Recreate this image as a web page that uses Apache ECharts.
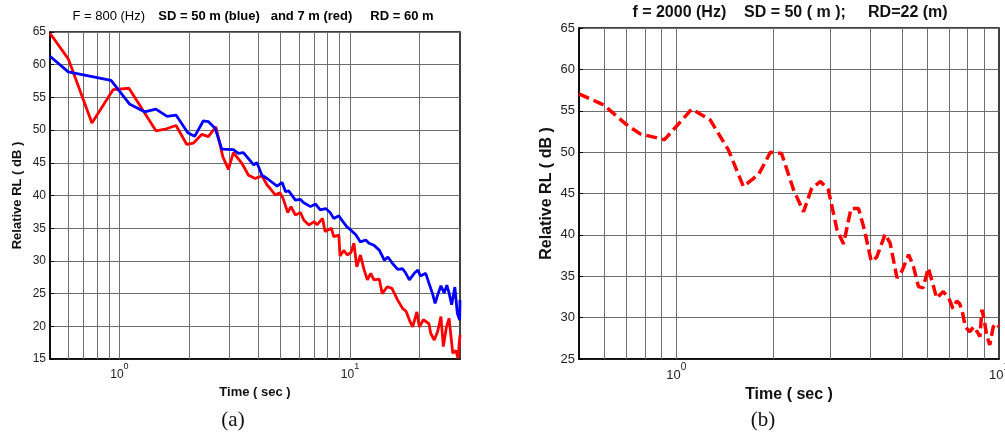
<!DOCTYPE html>
<html>
<head>
<meta charset="utf-8">
<script src="https://cdn.jsdelivr.net/npm/echarts@6/dist/echarts.min.js"></script>
<style>
  html, body { margin: 0; padding: 0; background: #fff; }
  #chart { width: 1005px; height: 436px; }
</style>
</head>
<body>
<div id="chart"></div>
<script>
// Panel (a): F = 800 Hz, source depth 50 m (blue) and 7 m (red)
const blueTime = [0.5, 0.6, 0.92, 1.105, 1.285, 1.44, 1.61, 1.76, 1.98, 2.12, 2.31, 2.43, 2.6, 2.78, 3.12, 3.28, 3.45, 3.82, 3.95, 4.15, 4.37, 4.83, 5.08, 5.25, 5.42, 5.8, 6.1, 6.3, 6.74, 7.08, 7.43, 7.85, 8.2, 8.5, 8.95, 9.25, 9.7, 10.1, 10.6, 11.1, 11.7, 12.1, 12.7, 13.4, 14.1, 14.6, 15.3, 16.1, 16.9, 17.4, 18.1, 19.0, 19.7, 20.2, 21.3, 22.0, 22.8, 23.4, 24.0, 24.8, 25.6, 26.3, 26.9, 27.6, 28.5, 29.2, 29.9, 30];
const blueRL   = [61.3, 58.9, 57.6, 54.0, 52.8, 53.2, 52.1, 52.3, 49.6, 49.05, 51.4, 51.3, 50.3, 47.1, 47.0, 46.45, 46.55, 44.7, 45.0, 43.1, 42.6, 41.45, 42.0, 40.6, 40.7, 39.3, 39.4, 38.9, 38.3, 38.7, 37.8, 38.0, 37.4, 36.5, 36.9, 36.15, 35.2, 34.7, 34.0, 32.9, 33.2, 32.7, 32.4, 31.65, 30.1, 30.6, 29.6, 28.7, 28.8, 28.2, 27.1, 28.1, 28.6, 27.7, 28.1, 26.6, 25.0, 23.5, 24.8, 26.2, 25.1, 26.3, 25.1, 23.3, 26.0, 22.0, 20.95, 24.0];

const redTime = [0.5, 0.6, 0.76, 0.94, 1.1, 1.44, 1.6, 1.76, 1.96, 2.09, 2.28, 2.43, 2.62, 2.81, 2.97, 3.12, 3.4, 3.63, 3.88, 4.15, 4.37, 4.5, 4.74, 4.97, 5.12, 5.37, 5.55, 5.8, 6.1, 6.3, 6.63, 7.0, 7.2, 7.6, 7.8, 8.3, 8.5, 8.95, 9.05, 9.4, 9.73, 10.1, 10.4, 10.7, 11.1, 11.5, 11.9, 12.3, 12.7, 13.4, 13.8, 14.5, 15.2, 15.6, 16.1, 16.9, 17.5, 18.1, 18.7, 19.5, 20.0, 20.8, 22.0, 22.4, 23.2, 24.0, 24.8, 25.4, 26.2, 26.9, 27.9, 28.8, 29.4, 30];
const redRL   = [64.8, 60.9, 51.1, 56.2, 56.4, 49.9, 50.2, 50.7, 47.8, 48.0, 49.35, 49.0, 50.5, 45.9, 44.0, 46.55, 44.9, 43.1, 42.6, 43.0, 41.6, 41.1, 40.1, 40.4, 39.6, 37.4, 38.3, 37.0, 37.4, 36.25, 35.5, 36.0, 35.5, 36.5, 34.5, 35.0, 33.7, 33.95, 30.75, 31.6, 30.9, 31.3, 32.7, 29.1, 30.9, 28.7, 27.1, 28.1, 27.1, 27.2, 25.0, 26.05, 25.8, 25.0, 24.0, 22.75, 22.3, 20.95, 19.9, 22.2, 19.9, 21.0, 20.4, 18.9, 17.9, 19.2, 21.5, 16.9, 19.9, 21.2, 15.9, 16.3, 15.1, 18.7];

// Panel (b): f = 2000 Hz, SD = 50 m, RD = 22 m
const bTime = [0.5, 0.596, 0.703, 0.774, 0.92, 1.117, 1.274, 1.45, 1.615, 1.8, 1.96, 2.12, 2.31, 2.48, 2.63, 2.8, 2.96, 3.15, 3.3, 3.48, 3.67, 3.83, 4.02, 4.18, 4.44, 4.6, 4.83, 5.0, 5.25, 5.43, 5.63, 5.82, 6.04, 6.27, 6.41, 6.72, 6.99, 7.2, 7.4, 7.55, 7.7, 7.86, 8.12, 8.35, 8.62, 8.73, 8.85, 9.0, 9.15, 9.36, 9.6, 9.85, 10];
const bRL   = [57.05, 55.7, 53.3, 52.2, 51.5, 55.2, 53.9, 50.3, 45.85, 47.3, 50.0, 49.85, 45.45, 42.8, 45.65, 46.45, 45.45, 40.6, 38.9, 43.2, 43.2, 40.6, 36.8, 37.3, 40.1, 39.0, 34.8, 35.6, 37.6, 36.2, 33.75, 33.6, 36.0, 33.75, 32.35, 33.15, 32.35, 31.1, 32.0, 31.7, 30.7, 28.9, 28.3, 28.9, 28.1, 27.7, 30.95, 29.75, 27.9, 26.7, 28.9, 29.3, 28.9];

// Vertical grid positions (1-2-...-9 per decade)
const gridTimesA = [0.6, 0.7, 0.8, 0.9, 1, 2, 3, 4, 5, 6, 7, 8, 9, 10, 20];
const gridTimesB = [0.6, 0.7, 0.8, 0.9, 1, 2, 3, 4, 5, 6, 7, 8, 9];

const titleA = 'F = 800 (Hz)';
const titleA2 = 'SD = 50 m (blue)   and 7 m (red)     RD = 60 m';
const titleB = 'f = 2000 (Hz)    SD = 50 ( m );     RD=22 (m)';
const yName = 'Relative RL ( dB )';
const xName = 'Time ( sec )';

const FONT = 'Liberation Sans, Arial, sans-serif';
const pairs = (xs, ys) => xs.map((x, i) => [x, ys[i]]);

function isDecade(v) {
  const l = Math.log10(v);
  return Math.abs(l - Math.round(l)) < 1e-6;
}
function decadeLabel(size) {
  return {
    formatter: v => isDecade(v) ? '{b|10}{s|' + Math.round(Math.log10(v)) + '}' : '',
    showMinLabel: true,
    showMaxLabel: true,
    hideOverlap: false,
    margin: 3,
    rich: {
      b: { fontSize: size, fontFamily: FONT, color: '#222', lineHeight: size + 7, verticalAlign: 'bottom' },
      s: { fontSize: size - 3, fontFamily: FONT, color: '#222', lineHeight: size + 7, verticalAlign: 'top' }
    }
  };
}
function gridMarks(times) {
  return {
    z: 1,
    silent: true,
    symbol: ['none', 'none'],
    label: { show: false },
    emphasis: { disabled: true },
    animation: false,
    lineStyle: { type: 'solid', color: '#6e6e6e', width: 1 },
    data: times.map(t => ({ xAxis: t }))
  };
}

const chart = echarts.init(document.getElementById('chart'));
chart.setOption({
  animation: false,
  backgroundColor: '#fff',
  grid: [
    { left: 50, top: 32, width: 410, height: 327, outerBoundsMode: 'none', show: true, borderColor: '#000', borderWidth: 1.5, backgroundColor: 'transparent' },
    { left: 579, top: 28, width: 420, height: 331, outerBoundsMode: 'none', show: true, borderColor: '#000', borderWidth: 1.5, backgroundColor: 'transparent' }
  ],
  xAxis: [
    {
      gridIndex: 0, type: 'log', logBase: 10, min: 0.5, max: 30,
      name: xName, nameLocation: 'middle', nameGap: 23,
      nameTextStyle: { fontFamily: FONT, fontWeight: 'bold', fontSize: 13, color: '#111' },
      axisLine: { show: true, lineStyle: { color: '#000', width: 1.5 } },
      axisTick: { show: false },
      splitLine: { show: false },
      axisLabel: decadeLabel(12)
    },
    {
      gridIndex: 1, type: 'log', logBase: 10, min: 0.5, max: 10,
      name: xName, nameLocation: 'middle', nameGap: 22,
      nameTextStyle: { fontFamily: FONT, fontWeight: 'bold', fontSize: 16, color: '#111' },
      axisLine: { show: true, lineStyle: { color: '#000', width: 1.5 } },
      axisTick: { show: false },
      splitLine: { show: false },
      axisLabel: decadeLabel(13)
    }
  ],
  yAxis: [
    {
      gridIndex: 0, type: 'value', min: 15, max: 65, interval: 5,
      name: yName, nameLocation: 'middle', nameRotate: 90, nameGap: 26,
      nameTextStyle: { fontFamily: FONT, fontWeight: 'bold', fontSize: 13, color: '#111' },
      axisLine: { show: true, lineStyle: { color: '#000', width: 1.5 } },
      axisTick: { show: true, inside: true, length: 4, lineStyle: { color: '#000' } },
      axisLabel: { fontFamily: FONT, fontSize: 12, color: '#222', margin: 4 },
      splitLine: { show: true, lineStyle: { color: '#6e6e6e', width: 1 } }
    },
    {
      gridIndex: 1, type: 'value', min: 25, max: 65, interval: 5,
      name: yName, nameLocation: 'middle', nameRotate: 90, nameGap: 24,
      nameTextStyle: { fontFamily: FONT, fontWeight: 'bold', fontSize: 16, color: '#111' },
      axisLine: { show: true, lineStyle: { color: '#000', width: 1.5 } },
      axisTick: { show: true, inside: true, length: 4, lineStyle: { color: '#000' } },
      axisLabel: { fontFamily: FONT, fontSize: 13, color: '#222', margin: 4 },
      splitLine: { show: true, lineStyle: { color: '#6e6e6e', width: 1 } }
    }
  ],
  series: [
    {
      name: 'SD 7 m', type: 'line', xAxisIndex: 0, yAxisIndex: 0, z: 2,
      data: pairs(redTime, redRL), showSymbol: false, symbol: 'none',
      lineStyle: { color: '#ff0000', width: 2.8 }, itemStyle: { color: '#ff0000' },
      markLine: gridMarks(gridTimesA)
    },
    {
      name: 'SD 50 m', type: 'line', xAxisIndex: 0, yAxisIndex: 0, z: 3,
      data: pairs(blueTime, blueRL), showSymbol: false, symbol: 'none',
      lineStyle: { color: '#0000ff', width: 2.8 }, itemStyle: { color: '#0000ff' }
    },
    {
      name: 'f 2000 Hz', type: 'line', xAxisIndex: 1, yAxisIndex: 1, z: 2,
      data: pairs(bTime, bRL), showSymbol: false, symbol: 'none',
      lineStyle: { color: '#ff0000', width: 3.5, type: [11, 5] }, itemStyle: { color: '#ff0000' },
      markLine: gridMarks(gridTimesB)
    }
  ],
  graphic: [
    {
      type: 'text', x: 253, y: 16, silent: true,
      style: {
        text: '{n|' + titleA + '}    {b|' + titleA2 + '}',
        align: 'center', verticalAlign: 'middle',
        rich: {
          n: { fontFamily: FONT, fontSize: 13, color: '#333' },
          b: { fontFamily: FONT, fontSize: 13, fontWeight: 'bold', color: '#111' }
        }
      }
    },
    {
      type: 'text', x: 790, y: 13, silent: true,
      style: {
        text: titleB, align: 'center', verticalAlign: 'middle',
        fontFamily: FONT, fontSize: 16, fontWeight: 'bold', fill: '#111'
      }
    },
    {
      type: 'text', x: 233, y: 420, silent: true,
      style: { text: '(a)', align: 'center', verticalAlign: 'middle', fontFamily: 'Liberation Serif, Times New Roman, serif', fontSize: 21, fill: '#111' }
    },
    {
      type: 'text', x: 763, y: 420, silent: true,
      style: { text: '(b)', align: 'center', verticalAlign: 'middle', fontFamily: 'Liberation Serif, Times New Roman, serif', fontSize: 21, fill: '#111' }
    }
  ]
});
</script>
</body>
</html>
